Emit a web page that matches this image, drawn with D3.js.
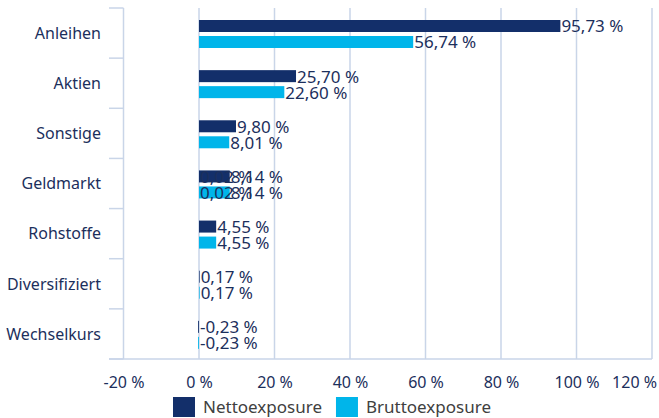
<!DOCTYPE html>
<html>
<head>
<meta charset="utf-8">
<script src="https://cdn.jsdelivr.net/npm/d3@7"></script>
<style>
  body { margin: 0; background: #fff; }
  svg { display: block; font-family: "Noto Sans", sans-serif; }
</style>
</head>
<body>
<svg width="659" height="418"></svg>
<script>
// categories and values
const categories = ["Anleihen", "Aktien", "Sonstige", "Geldmarkt", "Rohstoffe", "Diversifiziert", "Wechselkurs"];
const series = ["Nettoexposure", "Bruttoexposure"];
const netto = [95.73, 25.70, 9.80, 8.14, 4.55, 0.17, -0.23];
const brutto = [56.74, 22.60, 8.01, 8.14, 4.55, 0.17, -0.23];
// Geldmarkt shows up twice in the source data, second entry overlays the first
const extraCategory = ["Geldmarkt"];
const extraNetto = [0.02];
const extraBrutto = [0.02];
const xTicks = [-20, 0, 20, 40, 60, 80, 100, 120];

const colors = { Nettoexposure: "#132f6a", Bruttoexposure: "#00b5ea" };
const textColor = "#1c2f5c";
const gridColor = "#c9d5e8";
const fontSize = 16;

const svg = d3.select("svg");
const W = 659;

const x = d3.scaleLinear().domain([-20, 120]).range([123.5, 652]);
const y = d3.scaleBand().domain(categories).range([8, 359]);
const ySub = d3.scaleBand().domain(series).range([12, 40]).paddingInner(0.25);

// rows: one per bar
const rows = [];
categories.forEach((c, i) => {
  rows.push({ cat: c, s: "Nettoexposure", v: netto[i] });
  rows.push({ cat: c, s: "Bruttoexposure", v: brutto[i] });
});
extraCategory.forEach((c, i) => {
  rows.push({ cat: c, s: "Nettoexposure", v: extraNetto[i] });
  rows.push({ cat: c, s: "Bruttoexposure", v: extraBrutto[i] });
});

// vertical gridlines
svg.append("g")
  .selectAll("line")
  .data(xTicks)
  .join("line")
  .attr("x1", d => x(d)).attr("x2", d => x(d))
  .attr("y1", y.range()[0]).attr("y2", y.range()[1])
  .attr("stroke", gridColor)
  .attr("stroke-width", 1.5);

// category separators on the left axis
const bounds = categories.map(c => y(c)).concat([y.range()[1]]);
svg.append("g")
  .selectAll("line")
  .data(bounds)
  .join("line")
  .attr("x1", 109).attr("x2", x(-20))
  .attr("y1", d => d).attr("y2", d => d)
  .attr("stroke", gridColor)
  .attr("stroke-width", 1.5);

// bottom axis line
svg.append("line")
  .attr("x1", 109).attr("x2", x(120))
  .attr("y1", y.range()[1]).attr("y2", y.range()[1])
  .attr("stroke", gridColor)
  .attr("stroke-width", 1.5);

// category labels
svg.append("g")
  .selectAll("text")
  .data(categories)
  .join("text")
  .attr("x", 101)
  .attr("y", d => y(d) + y.bandwidth() / 2)
  .attr("dy", "0.36em")
  .attr("text-anchor", "end")
  .attr("font-size", fontSize)
  .attr("fill", textColor)
  .text(d => d);

// bars
svg.append("g")
  .selectAll("rect")
  .data(rows)
  .join("rect")
  .attr("x", d => x(Math.min(0, d.v)))
  .attr("y", d => y(d.cat) + ySub(d.s))
  .attr("width", d => Math.abs(x(d.v) - x(0)))
  .attr("height", ySub.bandwidth())
  .attr("fill", d => colors[d.s]);

// value labels
const fmt = v => v.toFixed(2).replace(".", ",") + " %";
svg.append("g")
  .selectAll("text")
  .data(rows)
  .join("text")
  .attr("x", d => x(Math.max(0, d.v)) + 1)
  .attr("y", d => y(d.cat) + ySub(d.s) + ySub.bandwidth() / 2)
  .attr("dy", "0.38em")
  .attr("font-size", fontSize + 1)
  .attr("fill", textColor)
  .text(d => fmt(d.v));

// x axis tick labels
const xAxis = svg.append("g")
  .attr("transform", `translate(0,${y.range()[1]})`)
  .call(d3.axisBottom(x).tickValues(xTicks).tickSize(0).tickPadding(18).tickFormat(d => d + " %"));
xAxis.select(".domain").remove();
xAxis.selectAll("text")
  .attr("font-family", "Noto Sans, sans-serif")
  .attr("font-size", fontSize)
  .attr("fill", textColor)
  .each(function () {
    // keep the last label inside the picture
    const b = this.getBBox();
    const tx = +this.parentNode.getAttribute("transform").match(/translate\(([-\d.]+)/)[1];
    const over = tx + b.x + b.width - (W - 2);
    if (over > 0) d3.select(this).attr("x", -over);
  });

// legend
const legend = svg.append("g");
let lx = 173;
series.forEach(s => {
  legend.append("rect")
    .attr("x", lx).attr("y", 397)
    .attr("width", 22).attr("height", 20)
    .attr("fill", colors[s]);
  const t = legend.append("text")
    .attr("x", lx + 30).attr("y", 413)
    .attr("font-size", fontSize + 1)
    .attr("fill", "#404040")
    .text(s);
  lx += 30 + t.node().getComputedTextLength() + 14;
});
</script>
</body>
</html>
